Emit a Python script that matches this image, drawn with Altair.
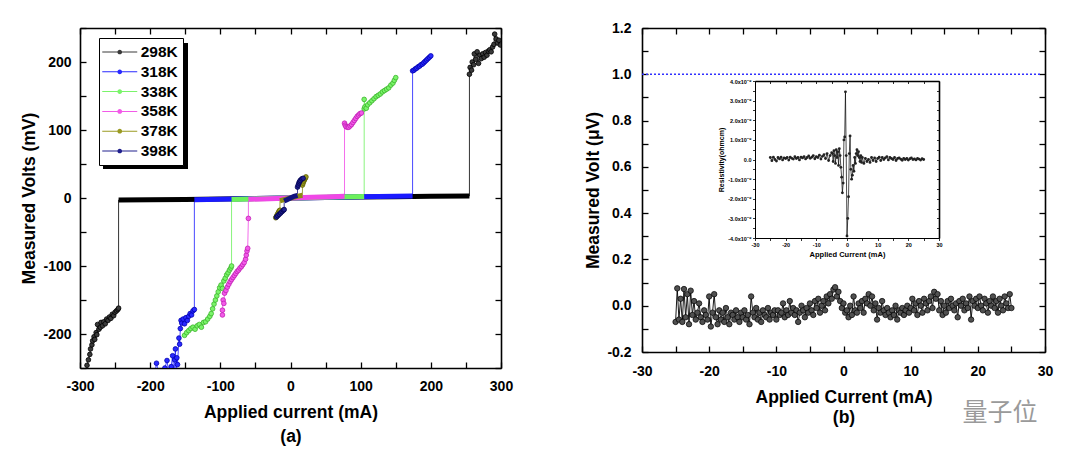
import altair as alt
import pandas as pd

# ---------------- Panel (a): measured volts vs applied current ----------------
SERIES = ["298K", "318K", "338K", "358K", "378K", "398K"]
LINE_COLORS = ["#000000", "#1a1aff", "#6cf05c", "#f048e6", "#8c8c14", "#12127e"]
FILL_COLORS = ["#3a3a3a", "#2a2aff", "#7af46a", "#f25ae8", "#9a9a22", "#20208e"]
EDGE_COLORS = ["#000000", "#0000b0", "#3cb42c", "#c020b4", "#5e5e00", "#000050"]

# 298K
k298_low_x = [-290, -288, -286, -285, -283, -282, -280, -279, -277, -276, -275, -273, -271, -270,
              -268, -266, -264, -262, -260, -258, -256, -254, -252, -250, -248, -246, -245]
k298_low_y = [-246, -238, -230, -222, -216, -210, -204, -208, -198, -201, -186, -193, -190, -183,
              -188, -182, -185, -178, -180, -175, -177, -171, -173, -168, -166, -164, -162]
k298_band_x = [-245, -200, -150, -100, -50, 0, 50, 100, 150, 200, 255]
k298_band_y = [-3.0, -2.6, -2.2, -1.6, -0.8, 0.0, 0.7, 1.3, 1.9, 2.4, 3.0]
k298_high_x = [255, 256, 258, 259, 261, 262, 264, 266, 268, 270, 272, 274, 276, 278, 280, 282,
               284, 286, 288, 290, 291, 293, 295, 297, 299]
k298_high_y = [182, 192, 188, 200, 196, 212, 204, 215, 198, 210, 205, 212, 207, 214, 210, 216,
               218, 215, 222, 226, 241, 234, 228, 232, 225]

# 318K
k318_low_x = [-200, -193, -191, -187, -183, -179, -176, -173, -170, -168, -166, -165, -164, -163,
              -162, -161, -159, -158, -157, -156, -155, -153, -151, -149, -147, -145, -143, -141,
              -139, -137]
k318_low_y = [-268, -255, -243, -262, -256, -250, -239, -260, -248, -232, -262, -238, -222, -258,
              -235, -245, -206, -215, -192, -180, -184, -178, -185, -176, -180, -174, -170, -172,
              -166, -164]
k318_band_x = [-137, -100, -50, 0, 50, 100, 150, 174]
k318_band_y = [-2.5, -1.8, -0.9, 0.0, 0.9, 1.8, 2.6, 3.0]
k318_high_x = [174, 176, 178, 180, 182, 184, 186, 188, 190, 192, 194, 196, 198, 200]
k318_high_y = [187, 188, 190, 191, 193, 194, 196, 197, 199, 201, 203, 205, 207, 209]

# 338K
k338_low_x = [-151, -148, -145, -142, -139, -136, -133, -130, -127, -124, -121, -118, -115, -113,
              -111, -109, -107, -105, -103, -101, -99, -97, -95, -93, -91, -89, -87, -85, -84]
k338_low_y = [-202, -198, -195, -192, -190, -193, -188, -186, -190, -183, -182, -178, -174, -170,
              -163, -156, -150, -144, -138, -132, -128, -133, -122, -118, -113, -110, -106, -103, -100]
k338_band_x = [-84, -50, 0, 50, 105]
k338_band_y = [-2.2, -1.2, 0.0, 1.0, 2.2]
k338_high_x = [105, 105, 106, 108, 110, 113, 116, 119, 122, 125, 128, 131, 134, 137, 140, 143,
               146, 148, 150]
k338_high_y = [131, 145, 134, 132, 137, 140, 143, 146, 149, 151, 153, 156, 158, 160, 162, 166,
               169, 173, 177]

# 358K
k358_low_x = [-97, -97, -96, -95, -94, -92, -90, -88, -86, -84, -82, -80, -78, -76, -74, -72,
              -70, -68, -66, -64, -63, -62, -61, -60]
k358_low_y = [-172, -165, -150, -155, -140, -136, -131, -127, -123, -120, -117, -114, -111, -108,
              -106, -103, -101, -98, -95, -90, -84, -78, -74, -30]
k358_band_x = [-60, -30, 0, 30, 60, 77]
k358_band_y = [-2.0, -1.0, 0.0, 1.0, 2.0, 2.6]
k358_high_x = [77, 78, 79, 81, 83, 85, 87, 89, 91, 93, 95, 97, 99, 101]
k358_high_y = [110, 107, 105, 104, 104, 106, 108, 111, 114, 117, 120, 122, 124, 125]

# 378K
k378_low_x = [-21, -20, -19, -18, -17, -16, -15]
k378_low_y = [-29, -27, -25, -23, -21, -19, -18]
k378_band_x = [-15, -8, 0, 8, 17]
k378_band_y = [-4.0, -2.0, 0.0, 2.0, 4.0]
k378_high_x = [17, 18, 19, 20, 21, 22]
k378_high_y = [19, 22, 25, 27, 29, 31]

# 398K
k398_low_x = [-20, -18, -16, -14, -12, -10, -9]
k398_low_y = [-28, -26, -24, -22, -20, -18, -17]
k398_band_x = [-9, -5, 0, 5, 10]
k398_band_y = [-4.5, -2.5, 0.0, 2.5, 4.0]
k398_high_x = [10, 11, 12, 13, 14, 16, 18]
k398_high_y = [16, 19, 22, 24, 26, 28, 29]

# ---------------- Panel (b): measured volt vs applied current ----------------
b_x = [-25.0, -24.75, -24.5, -24.25, -24.0, -23.75, -23.5, -23.25, -23.0, -22.75,
       -22.5, -22.25, -22.0, -21.75, -21.5, -21.25, -21.0, -20.75, -20.5, -20.25,
       -20.0, -19.75, -19.5, -19.25, -19.0, -18.75, -18.5, -18.25, -18.0, -17.75,
       -17.5, -17.25, -17.0, -16.75, -16.5, -16.25, -16.0, -15.75, -15.5, -15.25,
       -15.0, -14.75, -14.5, -14.25, -14.0, -13.75, -13.5, -13.25, -13.0, -12.75,
       -12.5, -12.25, -12.0, -11.75, -11.5, -11.25, -11.0, -10.75, -10.5, -10.25,
       -10.0, -9.75, -9.5, -9.25, -9.0, -8.75, -8.5, -8.25, -8.0, -7.75,
       -7.5, -7.25, -7.0, -6.75, -6.5, -6.25, -6.0, -5.75, -5.5, -5.25,
       -5.0, -4.75, -4.5, -4.25, -4.0, -3.75, -3.5, -3.25, -3.0, -2.75,
       -2.5, -2.25, -2.0, -1.75, -1.5, -1.25, -1.0, -0.75, -0.5, -0.25,
       0.0, 0.25, 0.5, 0.75, 1.0, 1.25, 1.5, 1.75, 2.0, 2.25,
       2.5, 2.75, 3.0, 3.25, 3.5, 3.75, 4.0, 4.25, 4.5, 4.75,
       5.0, 5.25, 5.5, 5.75, 6.0, 6.25, 6.5, 6.75, 7.0, 7.25,
       7.5, 7.75, 8.0, 8.25, 8.5, 8.75, 9.0, 9.25, 9.5, 9.75,
       10.0, 10.25, 10.5, 10.75, 11.0, 11.25, 11.5, 11.75, 12.0, 12.25,
       12.5, 12.75, 13.0, 13.25, 13.5, 13.75, 14.0, 14.25, 14.5, 14.75,
       15.0, 15.25, 15.5, 15.75, 16.0, 16.25, 16.5, 16.75, 17.0, 17.25,
       17.5, 17.75, 18.0, 18.25, 18.5, 18.75, 19.0, 19.25, 19.5, 19.75,
       20.0, 20.25, 20.5, 20.75, 21.0, 21.25, 21.5, 21.75, 22.0, 22.25,
       22.5, 22.75, 23.0, 23.25, 23.5, 23.75, 24.0, 24.25, 24.5, 24.75,
       25.0]
b_volt = [-0.07, 0.075, -0.06, 0.03, -0.07, 0.072, -0.05, 0.05, -0.08, 0.065,
          -0.04, 0.02, -0.06, -0.03, 0.01, -0.05, -0.07, -0.02, -0.04, -0.06,
          0.04, -0.09, -0.03, 0.05, -0.05, -0.08, -0.02, -0.06, -0.03, -0.07,
          -0.01, -0.05, -0.08, -0.03, -0.04, -0.06, -0.02, -0.05, -0.07, -0.03,
          -0.05, -0.02, -0.06, -0.04, -0.08, 0.04, -0.03, -0.05, -0.01, -0.06,
          -0.03, -0.07, -0.02, -0.04, -0.05, -0.01, -0.06, -0.03, -0.04, -0.02,
          -0.06, -0.02, -0.04, -0.03, 0.01, -0.05, -0.02, -0.04, 0.02, -0.03,
          -0.01, -0.04, -0.02, -0.07, -0.03, 0.00, -0.02, -0.05, -0.01, -0.03,
          0.01, -0.02, -0.04, 0.02, -0.01, 0.03, -0.03, 0.00, 0.02, -0.02,
          0.04, 0.01, 0.05, 0.03, 0.07, 0.08, 0.04, 0.06, 0.02, -0.01,
          0.01, -0.03, -0.02, -0.05, 0.00, -0.04, 0.04, -0.02, -0.03, 0.01,
          -0.01, 0.02, -0.03, 0.03, 0.01, 0.05, 0.00, 0.04, -0.02, 0.01,
          -0.06, -0.01, -0.03, 0.02, -0.02, -0.04, -0.01, -0.03, -0.05, -0.02,
          -0.04, 0.00, -0.06, -0.02, -0.03, -0.01, -0.04, -0.02, 0.00, -0.03,
          -0.01, 0.03, -0.02, 0.01, -0.04, 0.02, 0.00, -0.03, 0.03, 0.01,
          -0.02, 0.02, 0.04, -0.01, 0.06, 0.03, 0.05, -0.02, 0.02, -0.04,
          0.00, -0.03, 0.02, -0.01, 0.03, 0.00, -0.02, 0.01, -0.05, 0.02,
          0.00, 0.03, -0.02, 0.01, -0.01, 0.04, -0.06, 0.02, 0.00, 0.03,
          -0.01, 0.04, 0.00, -0.02, 0.03, 0.01, -0.03, 0.02, 0.00, 0.04,
          -0.01, 0.02, -0.03, 0.03, 0.00, -0.02, 0.04, 0.01, -0.01, 0.05,
          -0.01]
ref_line_x = [-30.0]
ref_line_x2 = [29.3]
ref_line_y = [1.0]

# Inset: resistivity (in units of 1e-9 ohm cm) vs applied current
ins_x = [-25, -24.5, -24, -23.5, -23, -22.5, -22, -21.5, -21, -20.5, -20, -19.5, -19, -18.5,
         -18, -17.5, -17, -16.5, -16, -15.5, -15, -14.5, -14, -13.5, -13, -12.5, -12, -11.5,
         -11, -10.5, -10, -9.5, -9, -8.5, -8, -7.5, -7, -6.5, -6, -5.5, -5,
         -4.75, -4.5, -4.25, -4.0, -3.75, -3.5, -3.25, -3.0, -2.75, -2.5, -2.25, -2.0, -1.75,
         -1.5, -1.25, -1.0, -0.75, -0.5, -0.25, 0.0, 0.25, 0.5, 0.75, 1.0, 1.25, 1.5, 1.75,
         2.0, 2.25, 2.5, 2.75, 3.0, 3.25, 3.5, 3.75, 4.0, 4.25, 4.5, 4.75,
         5, 5.5, 6, 6.5, 7, 7.5, 8, 8.5, 9, 9.5, 10, 10.5, 11, 11.5, 12, 12.5, 13, 13.5, 14,
         14.5, 15, 15.5, 16, 16.5, 17, 17.5, 18, 18.5, 19, 19.5, 20, 20.5, 21, 21.5, 22, 22.5,
         23, 23.5, 24, 24.5, 25]
ins_rho = [0.10, -0.06, 0.12, 0.00, -0.08, 0.10, 0.03, 0.12, -0.02, 0.08, 0.05, 0.10, -0.03,
           0.12, 0.06, 0.02, 0.14, 0.05, 0.10, -0.02, 0.12, 0.08, 0.15, 0.03, 0.10, 0.18, 0.06,
           0.12, 0.20, 0.04, 0.14, 0.10, 0.22, 0.02, 0.16, 0.25, 0.05, 0.30, -0.05, 0.20, 0.35,
           0.30, -0.10, 0.45, 0.20, -0.20, 0.50, 0.10, 0.40, -0.30, 0.55, 0.20, -0.40, -0.90,
           -1.70, -1.20, 1.00, 1.15, 3.45, 0.20, -3.90, -3.00, -1.90, 0.30, 1.20, -0.50, -1.00,
           -0.80, -0.30, -0.60, 0.10, -0.20, 0.30, 0.50, 0.20, 0.40, 0.10, -0.10, 0.20, -0.15,
           0.10, -0.20, 0.05, -0.10, 0.00, -0.15, 0.10, -0.05, 0.08, -0.10, 0.05, 0.12, -0.05,
           0.10, 0.00, 0.08, 0.15, -0.02, 0.10, 0.05, 0.00, 0.10, -0.05, 0.05, 0.08, 0.02,
           -0.04, 0.06, 0.00, 0.05, -0.03, 0.04, 0.08, 0.00, 0.03, -0.02, 0.05, 0.02, -0.03,
           0.04, 0.00]

# Tick positions
A_XT = [-300, -250, -200, -150, -100, -50, 0, 50, 100, 150, 200, 250, 300]
A_YT = [-250, -200, -150, -100, -50, 0, 50, 100, 150, 200, 250]
B_XT = [-30, -25, -20, -15, -10, -5, 0, 5, 10, 15, 20, 25, 30]
B_YT = [-0.2, -0.1, 0.0, 0.1, 0.2, 0.3, 0.4, 0.5, 0.6, 0.7, 0.8, 0.9, 1.0, 1.1, 1.2]
I_XT = [-30, -25, -20, -15, -10, -5, 0, 5, 10, 15, 20, 25, 30]
I_YT = [-4, -3.5, -3, -2.5, -2, -1.5, -1, -0.5, 0, 0.5, 1, 1.5, 2, 2.5, 3, 3.5, 4]

# ---------------- build tables ----------------
sweeps = {
    "298K": [("low", k298_low_x, k298_low_y), ("band", k298_band_x, k298_band_y), ("high", k298_high_x, k298_high_y)],
    "318K": [("low", k318_low_x, k318_low_y), ("band", k318_band_x, k318_band_y), ("high", k318_high_x, k318_high_y)],
    "338K": [("low", k338_low_x, k338_low_y), ("band", k338_band_x, k338_band_y), ("high", k338_high_x, k338_high_y)],
    "358K": [("low", k358_low_x, k358_low_y), ("band", k358_band_x, k358_band_y), ("high", k358_high_x, k358_high_y)],
    "378K": [("low", k378_low_x, k378_low_y), ("band", k378_band_x, k378_band_y), ("high", k378_high_x, k378_high_y)],
    "398K": [("low", k398_low_x, k398_low_y), ("band", k398_band_x, k398_band_y), ("high", k398_high_x, k398_high_y)],
}
rows = []
for name in SERIES:
    k = 0
    for part, xs, ys in sweeps[name]:
        for xv, yv in zip(xs, ys):
            rows.append({"series": name, "part": part, "x": xv, "y": yv, "order": k})
            k += 1
dfa = pd.DataFrame(rows)

dfb = pd.DataFrame({"x": b_x, "y": b_volt, "order": list(range(len(b_x)))})
dfref = pd.DataFrame({"x1": ref_line_x, "x2": ref_line_x2, "y": ref_line_y})
dfi = pd.DataFrame({"x": ins_x, "y": ins_rho, "order": list(range(len(ins_x)))})
dfw = pd.DataFrame({"t": ["量子位"]})

FONT = "Liberation Sans"
PATH = ("M-2,-0.055L2,-0.055L2,0.055L-2,0.055Z"
        "M-0.27,0A0.27,0.27,0,1,1,0.27,0A0.27,0.27,0,1,1,-0.27,0Z")


def label_axis(orient, values, expr, title, title_pad, label_pad, line_height=20):
    return alt.Axis(orient=orient, values=values, labelExpr=expr, ticks=False, tickSize=0,
                    domain=True, domainWidth=1.6, domainColor="black", title=title,
                    titlePadding=title_pad, labelPadding=label_pad, labelFlush=False,
                    labelOverlap=False, titleLineHeight=line_height, grid=False)


def tick_axis(orient, offset, values, domain, size=6, width=1.3):
    return alt.Axis(orient=orient, offset=offset, values=values, labels=False, ticks=True,
                    tickSize=size, tickWidth=width, tickColor="black", domain=domain,
                    domainWidth=1.6, domainColor="black", title=None, grid=False)


# ---------------- panel (a) ----------------
WA, HA = 421, 340
XDOM_A, YDOM_A = [-300, 300], [-250, 250]
LEG_X, LEG_Y, LEG_W, LEG_H, SHADOW = 19, 10, 85, 126, 4


def px_to_x(p):
    return XDOM_A[0] + p / WA * (XDOM_A[1] - XDOM_A[0])


def px_to_y(p):
    return YDOM_A[1] - p / HA * (YDOM_A[1] - YDOM_A[0])


# legend drop-shadow box (decoration behind the legend), expressed in panel (a) units
df_shadow = pd.DataFrame({
    "sx": [px_to_x(LEG_X + SHADOW)], "sx2": [px_to_x(LEG_X + LEG_W + SHADOW)],
    "sy": [px_to_y(LEG_Y + SHADOW + 1)], "sy2": [px_to_y(LEG_Y + LEG_H + SHADOW + 1)],
})

sxA = alt.Scale(domain=XDOM_A)
syA = alt.Scale(domain=YDOM_A)
axA_x = label_axis("bottom", A_XT, "datum.value % 100 == 0 ? '' + datum.value : ''",
                   ["Applied current (mA)", "(a)"], 10, 11, 24)
axA_y = label_axis("left", A_YT, "datum.value % 100 == 0 ? '' + datum.value : ''",
                   "Measured Volts (mV)", 4, 9)
XA = alt.X("x:Q", scale=sxA, axis=axA_x)
YA = alt.Y("y:Q", scale=syA, axis=axA_y)

LEG_MAIN = alt.Legend(title=None, orient="none", legendX=LEG_X, legendY=LEG_Y, padding=5,
                      rowPadding=1.8, symbolType=PATH, symbolSize=306, symbolOffset=6.75,
                      labelOffset=12, labelFont=FONT, labelFontSize=15.5, labelFontWeight="bold",
                      fillColor="white", strokeColor="black", labelColor="black",
                      symbolStrokeWidth=0.5)

shadow_box = alt.Chart(df_shadow).mark_rect(color="black", opacity=1).encode(
    x=alt.X("sx:Q", scale=sxA, axis=axA_x), x2="sx2:Q",
    y=alt.Y("sy:Q", scale=syA, axis=axA_y), y2="sy2:Q")

thin = alt.Chart(dfa).mark_line(strokeWidth=1, clip=True, opacity=0.8).encode(
    x=XA, y=YA,
    color=alt.Color("series:N", scale=alt.Scale(range=LINE_COLORS), legend=None),
    order="order:Q")
band = alt.Chart(dfa).transform_filter("datum.part == 'band'").mark_line(
    strokeWidth=5, clip=True, strokeCap="butt").encode(
    x=XA, y=YA,
    color=alt.Color("series:N", scale=alt.Scale(range=LINE_COLORS), legend=None),
    order="order:Q")
pts = alt.Chart(dfa).transform_filter("datum.part != 'band'").mark_point(
    filled=True, size=22, clip=True, strokeWidth=0.8, opacity=1).encode(
    x=XA, y=YA,
    fill=alt.Fill("series:N", scale=alt.Scale(domain=SERIES, range=FILL_COLORS), legend=LEG_MAIN),
    stroke=alt.Stroke("series:N", scale=alt.Scale(range=EDGE_COLORS), legend=None))

tA1 = alt.Chart(dfa).mark_point(opacity=0).encode(
    x=alt.X("x:Q", scale=alt.Scale(domain=XDOM_A), axis=tick_axis("top", -HA, A_XT, False)),
    y=alt.Y("y:Q", scale=alt.Scale(domain=YDOM_A), axis=tick_axis("right", -WA, A_YT, False)))
tA2 = alt.Chart(dfa).mark_point(opacity=0).encode(
    x=alt.X("x:Q", scale=alt.Scale(domain=XDOM_A), axis=tick_axis("bottom", -HA, A_XT, True)),
    y=alt.Y("y:Q", scale=alt.Scale(domain=YDOM_A), axis=tick_axis("left", -WA, A_YT, True)))

left = alt.layer(alt.layer(shadow_box, thin, band, pts), tA1, tA2).resolve_scale(
    x="independent", y="independent").properties(width=WA, height=HA)

# ---------------- panel (b) ----------------
WB, HB = 403, 324
sxB = alt.Scale(domain=[-30, 30])
syB = alt.Scale(domain=[-0.2, 1.2])
axBx = label_axis("bottom", B_XT, "datum.value % 10 == 0 ? '' + datum.value : ''",
                  ["Applied Current (mA)", "(b)"], 10, 12, 20)
axBy = label_axis("left", B_YT,
                  "abs(round(datum.value * 10)) % 2 == 0 ? replace(format(datum.value, '.1f'), '\u2212', '-') : ''",
                  "Measured Volt (\u03bcV)", 4, 11)

rline = alt.Chart(dfb).mark_line(color="black", strokeWidth=0.9).encode(
    x=alt.X("x:Q", scale=sxB, axis=axBx), y=alt.Y("y:Q", scale=syB, axis=axBy), order="order:Q")
rpts = alt.Chart(dfb).mark_point(filled=True, size=30, fill="#505050", stroke="#000000",
                                 strokeWidth=0.7, opacity=1).encode(
    x=alt.X("x:Q", scale=sxB, axis=axBx), y=alt.Y("y:Q", scale=syB, axis=axBy))
rref = alt.Chart(dfref).mark_rule(color="#3030ff", strokeDash=[2, 2], strokeWidth=1.6).encode(
    x=alt.X("x1:Q", scale=sxB, axis=axBx), x2="x2:Q", y=alt.Y("y:Q", scale=syB, axis=axBy))

tB1 = alt.Chart(dfb).mark_point(opacity=0).encode(
    x=alt.X("x:Q", scale=alt.Scale(domain=[-30, 30]), axis=tick_axis("top", -HB, B_XT, False)),
    y=alt.Y("y:Q", scale=alt.Scale(domain=[-0.2, 1.2]), axis=tick_axis("right", -WB, B_YT, False)))
tB2 = alt.Chart(dfb).mark_point(opacity=0).encode(
    x=alt.X("x:Q", scale=alt.Scale(domain=[-30, 30]), axis=tick_axis("bottom", -HB, B_XT, True)),
    y=alt.Y("y:Q", scale=alt.Scale(domain=[-0.2, 1.2]), axis=tick_axis("left", -WB, B_YT, True)))

# inset placement (pixels inside panel b)
IL, IR, IT, IB = 113, 297, 53, 210
sxI = alt.Scale(domain=[-30, 30], range=[IL, IR])
syI = alt.Scale(domain=[-4, 4], range=[IB, IT])
axIx = alt.Axis(orient="bottom", offset=IB - HB, values=I_XT,
                labelExpr="datum.value % 10 == 0 ? '' + datum.value : ''",
                tickSize=2.5, tickWidth=0.8, tickColor="black", domainWidth=1, domainColor="black",
                labelFontSize=5.5, labelPadding=1.5, labelFlush=False, labelOverlap=False,
                title="Applied Current (mA)", titleFontSize=7.5, titlePadding=3, grid=False)
axIy = alt.Axis(orient="left", offset=-IL, values=I_YT,
                labelExpr="datum.value % 1 == 0 ? (datum.value == 0 ? '0.0' : replace(format(datum.value, '.1f'), '\u2212', '-') + 'x10\u207b\u2079') : ''",
                tickSize=2.5, tickWidth=0.8, tickColor="black", domainWidth=1, domainColor="black",
                labelFontSize=5.5, labelPadding=1.5, labelFlush=False, labelOverlap=False,
                title="Resistivity(ohmcm)", titleFontSize=7, titlePadding=3, grid=False)
iline = alt.Chart(dfi).mark_line(color="black", strokeWidth=0.7).encode(
    x=alt.X("x:Q", scale=sxI, axis=axIx), y=alt.Y("y:Q", scale=syI, axis=axIy), order="order:Q")
ipts = alt.Chart(dfi).mark_point(filled=True, size=8, color="#222222", opacity=1).encode(
    x=alt.X("x:Q", scale=sxI, axis=axIx), y=alt.Y("y:Q", scale=syI, axis=axIy))
tI = alt.Chart(dfi).mark_point(opacity=0).encode(
    x=alt.X("x:Q", scale=alt.Scale(domain=[-30, 30], range=[IL, IR]),
            axis=tick_axis("bottom", IT - HB, I_XT, True, 2.5, 0.8)),
    y=alt.Y("y:Q", scale=alt.Scale(domain=[-4, 4], range=[IB, IT]),
            axis=tick_axis("left", -IR, I_YT, True, 2.5, 0.8)))

wm = alt.Chart(dfw).mark_text(font="Noto Sans CJK SC", fontSize=25, color="#9a9a9a",
                              fontWeight="normal").encode(
    text="t:N", x=alt.value(358), y=alt.value(385))

right = alt.layer(alt.layer(rline, rpts, rref), tB1, tB2, alt.layer(iline, ipts), tI, wm).resolve_scale(
    x="independent", y="independent").properties(width=WB, height=HB)

chart = alt.hconcat(left, right, spacing=141, bounds="flush").properties(
    padding={"left": 12, "top": 12, "right": 5, "bottom": 5}
).configure_view(stroke="transparent").configure_axis(
    labelFont=FONT, labelFontWeight="bold", labelFontSize=14, labelColor="black",
    titleFont=FONT, titleFontWeight="bold", titleFontSize=17.5, titleColor="black", grid=False
)

chart.save("out.html", embed_options={"renderer": "svg", "actions": False})
